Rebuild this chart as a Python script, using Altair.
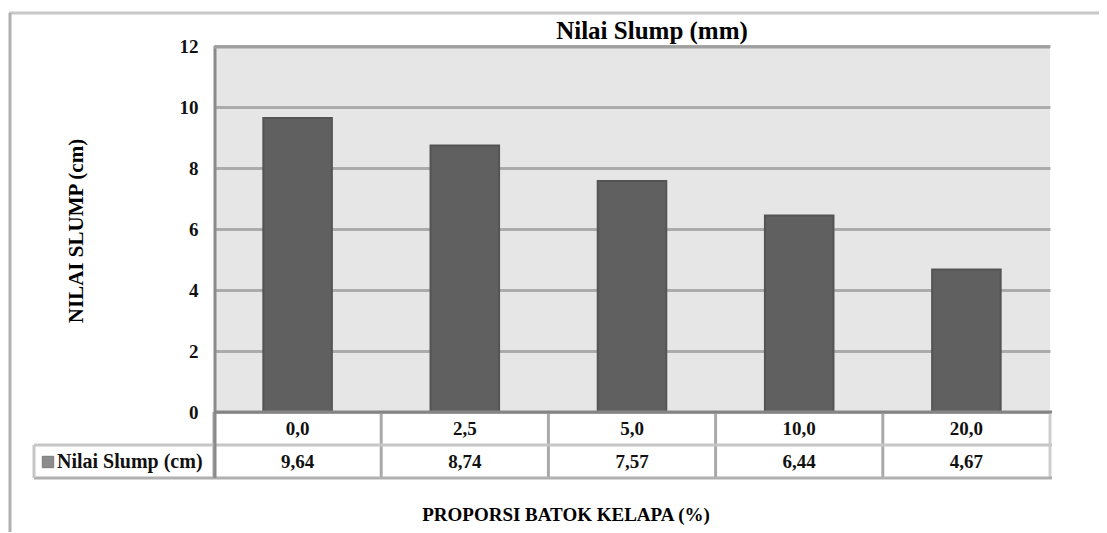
import altair as alt
import pandas as pd

# ---- data ----
categories = ["0,0", "2,5", "5,0", "10,0", "20,0"]
slump_values = [9.64, 8.74, 7.57, 6.44, 4.67]
slump_labels = ["9,64", "8,74", "7,57", "6,44", "4,67"]
y_ticks = [0, 2, 4, 6, 8, 10, 12]

chart_title = "Nilai Slump (mm)"
y_title = "NILAI SLUMP (cm)"
x_title = "PROPORSI BATOK KELAPA (%)"
series_name = "Nilai Slump (cm)"

W, H = 836, 366
FONT = "Liberation Serif"

df = pd.DataFrame({"cat": categories, "val": slump_values, "lab": slump_labels})
one = pd.DataFrame({"k": [0]})

xenc = alt.X("cat:N", sort=categories, axis=None,
             scale=alt.Scale(paddingInner=0, paddingOuter=0))

base = alt.Chart(df)

bars = base.mark_bar(width=alt.RelativeBandSize(0.41), color="#606060",
                     stroke="#545454", strokeWidth=2).encode(
    x=xenc,
    y=alt.Y("val:Q", scale=alt.Scale(domain=[0, 12], nice=False),
            axis=alt.Axis(values=y_ticks, title=None, grid=True,
                          gridColor="#ababab", gridWidth=3, domain=False,
                          ticks=False, labelPadding=16, labelFont=FONT,
                          labelFontWeight="bold", labelFontSize=19,
                          labelColor="#111111")),
)

# table: vertical separators at band starts
vsep = base.mark_rule(color="#a9a9a9", strokeWidth=3).encode(
    x=alt.X("cat:N", sort=categories, bandPosition=0, axis=None),
    y=alt.value(H), y2=alt.value(H + 66),
)
right_edge = alt.Chart(one).mark_rule(color="#cfcfcf", strokeWidth=3).encode(
    x=alt.value(W), y=alt.value(H), y2=alt.value(H + 66))
row_div = alt.Chart(one).mark_rule(color="#c6c6c6", strokeWidth=3).encode(
    x=alt.value(-180), x2=alt.value(W + 2), y=alt.value(H + 33))
row_bottom = alt.Chart(one).mark_rule(color="#b0b0b0", strokeWidth=3).encode(
    x=alt.value(-180), x2=alt.value(W + 2), y=alt.value(H + 66))
legend_left = alt.Chart(one).mark_rule(color="#c6c6c6", strokeWidth=3).encode(
    x=alt.value(-180), y=alt.value(H + 33), y2=alt.value(H + 66))
plot_left = alt.Chart(one).mark_rule(color="#8a8a8a", strokeWidth=3).encode(
    x=alt.value(1), y=alt.value(0), y2=alt.value(H + 66))
plot_bottom = alt.Chart(one).mark_rule(color="#858585", strokeWidth=3).encode(
    x=alt.value(0), x2=alt.value(W + 2), y=alt.value(H))
plot_top = alt.Chart(one).mark_rule(color="#a0a0a0", strokeWidth=3).encode(
    x=alt.value(0), x2=alt.value(W), y=alt.value(1))

cat_text = base.mark_text(font=FONT, fontWeight="bold", fontSize=19,
                          color="#111111", baseline="middle").encode(
    x=alt.X("cat:N", sort=categories, bandPosition=0.5, axis=None),
    y=alt.value(H + 17), text="cat:N")
val_text = base.mark_text(font=FONT, fontWeight="bold", fontSize=19,
                          color="#111111", baseline="middle").encode(
    x=alt.X("cat:N", sort=categories, bandPosition=0.5, axis=None),
    y=alt.value(H + 50), text="lab:N")

legend_sq = alt.Chart(one).mark_square(size=130, color="#5c5c5c",
                                       stroke="#444444", strokeWidth=1).encode(
    x=alt.value(-166), y=alt.value(H + 50))
legend_txt = alt.Chart(one).mark_text(font=FONT, fontWeight="bold", fontSize=20,
                                      color="#111111", align="left",
                                      baseline="middle").encode(
    x=alt.value(-157), y=alt.value(H + 50), text=alt.value(series_name))

title_txt = alt.Chart(one).mark_text(font=FONT, fontWeight="bold", fontSize=25,
                                     color="#000000", align="center",
                                     baseline="middle").encode(
    x=alt.value(438), y=alt.value(-15), text=alt.value(chart_title))
ytitle_txt = alt.Chart(one).mark_text(font=FONT, fontWeight="bold", fontSize=21,
                                      color="#000000", align="center",
                                      baseline="middle", angle=270).encode(
    x=alt.value(-137), y=alt.value(185), text=alt.value(y_title))
xtitle_txt = alt.Chart(one).mark_text(font=FONT, fontWeight="bold", fontSize=19,
                                      color="#000000", align="center",
                                      baseline="middle").encode(
    x=alt.value(352), y=alt.value(469), text=alt.value(x_title))

frame_top = alt.Chart(one).mark_rule(color="#c8c8c8", strokeWidth=3).encode(
    x=alt.value(-205), x2=alt.value(W + 60), y=alt.value(-33))
frame_left = alt.Chart(one).mark_rule(color="#b0b0b0", strokeWidth=3).encode(
    x=alt.value(-204), y=alt.value(-33), y2=alt.value(H + 120))

chart = alt.layer(
    bars, vsep, right_edge, row_div, row_bottom, legend_left,
    plot_left, plot_bottom, plot_top,
    cat_text, val_text, legend_sq, legend_txt,
    title_txt, ytitle_txt, xtitle_txt, frame_top, frame_left,
).properties(
    width=W, height=H,
    autosize=alt.AutoSizeParams(type="none"),
    padding={"left": 206, "top": 38, "right": 49, "bottom": 120},
    background="white",
).configure_view(
    fill="#e6e6e6", stroke=None,
)

chart.save("out.html", embed_options={"renderer": "svg", "actions": False})
